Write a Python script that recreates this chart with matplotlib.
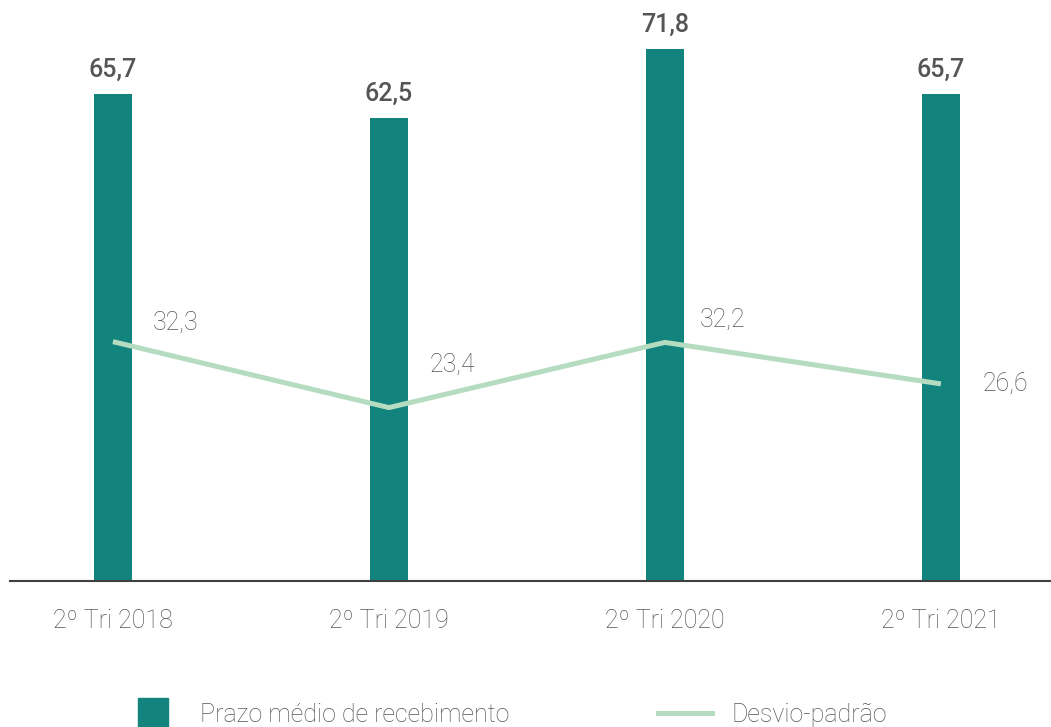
import matplotlib
matplotlib.use("Agg")
import matplotlib.pyplot as plt
from matplotlib.lines import Line2D

# dados
categorias = ["2º Tri 2018", "2º Tri 2019", "2º Tri 2020", "2º Tri 2021"]
prazo_medio = [65.7, 62.5, 71.8, 65.7]
desvio_padrao = [32.3, 23.4, 32.2, 26.6]

# estilo
cor_barra = "#13837d"
cor_linha = "#b5dcc0"
cor_texto = "#555555"
plt.rcParams["font.family"] = ["Roboto", "DejaVu Sans"]

def fmt(v):
    return f"{v:.1f}".replace(".", ",")

fig = plt.figure(figsize=(10.51, 7.27), dpi=100)
ax = fig.add_axes([10 / 1051, 1 - 581 / 727, 1041 / 1051, 581 / 727])

x = list(range(len(categorias)))
ax.bar(x, prazo_medio, width=0.138, color=cor_barra, zorder=2)
ax.plot(x, desvio_padrao, color=cor_linha, linewidth=3.6, zorder=3,
        solid_capstyle="butt")

for xi, v in zip(x, prazo_medio):
    ax.annotate(fmt(v), (xi, v), xytext=(0, 12), textcoords="offset pixels",
                ha="center", va="bottom", fontsize=18, fontweight="medium",
                color=cor_texto)

# deslocamento dos rótulos da linha (pixels)
desloc = [(63, 19), (64, 43), (58, 23), (65, 0)]
for xi, v, (dx, dy) in zip(x, desvio_padrao, desloc):
    ax.annotate(fmt(v), (xi, v), xytext=(dx, dy), textcoords="offset pixels",
                ha="center", va="center", fontsize=18, fontweight="light",
                color=cor_texto)

ax.set_xlim(-0.373, 3.399)
ax.set_ylim(0, 581 / 7.41)
ax.set_xticks(x)
ax.set_xticklabels(categorias, fontsize=18, fontweight="light", color=cor_texto)
ax.tick_params(axis="x", length=0, pad=20)
ax.set_yticks([])
for s in ["top", "right", "left"]:
    ax.spines[s].set_visible(False)
ax.spines["bottom"].set_color("#404040")
ax.spines["bottom"].set_linewidth(1.5)
ax.spines["bottom"].set_zorder(4)

handles = [
    Line2D([], [], marker="s", markersize=22, linestyle="none",
           color=cor_barra),
    Line2D([], [], color=cor_linha, linewidth=3.6),
]
fig.legend(handles, ["Prazo médio de recebimento", "Desvio-padrão"],
           loc="center", bbox_to_anchor=(506.5 / 1051, 1 - 715 / 727), ncol=2,
           frameon=False, handlelength=2.16, handletextpad=0.8,
           columnspacing=5.94, labelcolor=cor_texto,
           prop={"weight": "light", "size": 18})

fig.savefig("out.png", dpi=100)
